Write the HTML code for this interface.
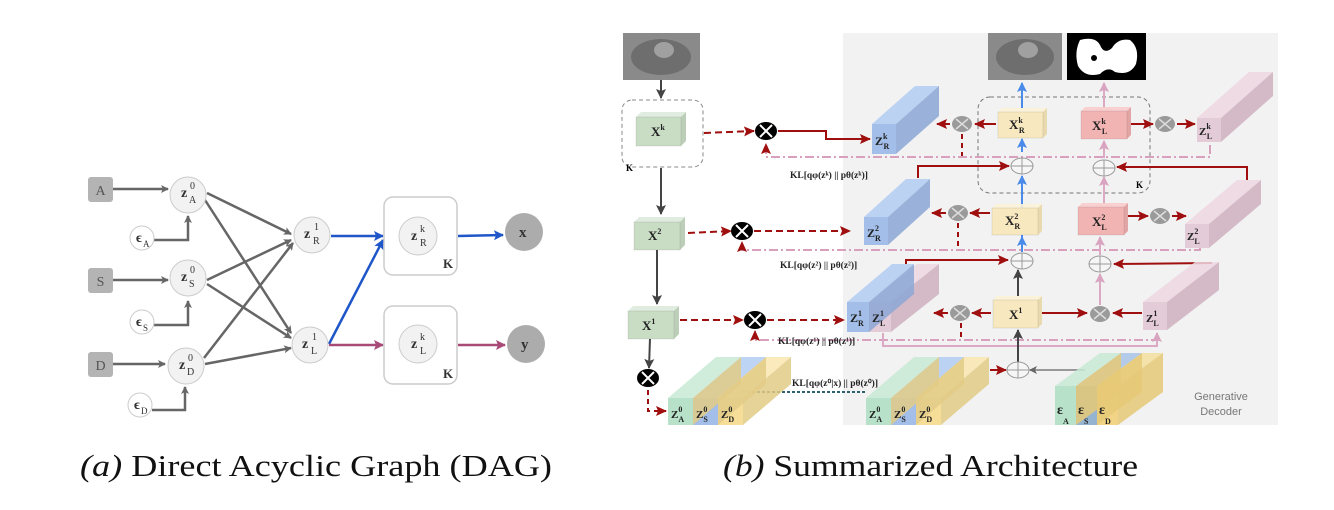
<!DOCTYPE html>
<html><head><meta charset="utf-8"><style>
body{margin:0;background:#fff;}
svg{display:block;font-family:"Liberation Serif",serif;}
.b{font-weight:bold;}
</style></head><body>
<svg id="s" width="1334" height="510" viewBox="0 0 1334 510" xmlns="http://www.w3.org/2000/svg">
<defs>
<marker id="ag" markerWidth="8" markerHeight="8" refX="7" refY="4" orient="auto" markerUnits="userSpaceOnUse"><path d="M0,0 L8,4 L0,8 L2,4z" fill="#666"/></marker>
<marker id="ak" markerWidth="10" markerHeight="10" refX="9" refY="5" orient="auto" markerUnits="userSpaceOnUse"><path d="M0,0 L10,5 L0,10 L2,5z" fill="#444"/></marker>
<marker id="ab" markerWidth="10" markerHeight="10" refX="9" refY="5" orient="auto" markerUnits="userSpaceOnUse"><path d="M0,0 L10,5 L0,10 L2,5z" fill="#1f56c8"/></marker>
<marker id="ab2" markerWidth="10" markerHeight="10" refX="9" refY="5" orient="auto" markerUnits="userSpaceOnUse"><path d="M0,0 L10,5 L0,10 L2,5z" fill="#4a8ae8"/></marker>
<marker id="am" markerWidth="10" markerHeight="10" refX="9" refY="5" orient="auto" markerUnits="userSpaceOnUse"><path d="M0,0 L10,5 L0,10 L2,5z" fill="#a84a78"/></marker>
<marker id="ap" markerWidth="10" markerHeight="10" refX="9" refY="5" orient="auto" markerUnits="userSpaceOnUse"><path d="M0,0 L10,5 L0,10 L2,5z" fill="#d8a4bf"/></marker>
<marker id="ar" markerWidth="11" markerHeight="10" refX="10" refY="5" orient="auto" markerUnits="userSpaceOnUse"><path d="M0,0 L11,5 L0,10 L2,5z" fill="#a00f0f"/></marker>
</defs>

<g stroke="#666" stroke-width="2.5" fill="none">
<line x1="113" y1="189" x2="168" y2="189" marker-end="url(#ag)"/>
<line x1="113" y1="280" x2="168" y2="280" marker-end="url(#ag)"/>
<line x1="113" y1="364" x2="165" y2="364" marker-end="url(#ag)"/>
<polyline points="154,240 188,240 188,216" marker-end="url(#ag)"/>
<polyline points="154,325 188,325 188,301" marker-end="url(#ag)"/>
<polyline points="152,410 185,410 185,387" marker-end="url(#ag)"/>
<line x1="207" y1="193" x2="291" y2="234" marker-end="url(#ag)"/>
<line x1="205" y1="200" x2="291" y2="333" marker-end="url(#ag)"/>
<line x1="207" y1="280" x2="291" y2="240" marker-end="url(#ag)"/>
<line x1="207" y1="284" x2="291" y2="338" marker-end="url(#ag)"/>
<line x1="204" y1="358" x2="293" y2="243" marker-end="url(#ag)"/>
<line x1="205" y1="364" x2="291" y2="348" marker-end="url(#ag)"/>
<line x1="331" y1="236" x2="383" y2="236" stroke="#1f56c8" marker-end="url(#ab)"/>
<line x1="329" y1="344" x2="383" y2="240" stroke="#1f56c8" marker-end="url(#ab)"/>
<line x1="329" y1="345" x2="383" y2="345" stroke="#a84a78" marker-end="url(#am)"/>
<line x1="458" y1="236" x2="503" y2="235" stroke="#1f56c8" marker-end="url(#ab)"/>
<line x1="458" y1="345" x2="505" y2="345" stroke="#a84a78" marker-end="url(#am)"/>
</g>
<g font-size="14">
<rect x="88" y="177" width="25" height="25" rx="3" fill="#b4b4b4"/><text x="100.5" y="195" text-anchor="middle" fill="#555">A</text>
<rect x="88" y="268" width="25" height="25" rx="3" fill="#b4b4b4"/><text x="100.5" y="286" text-anchor="middle" fill="#555">S</text>
<rect x="88" y="352" width="25" height="25" rx="3" fill="#b4b4b4"/><text x="100.5" y="370" text-anchor="middle" fill="#555">D</text>
<g fill="#f2f2f2" stroke="#ccc">
<circle cx="188" cy="195" r="18"/>
<circle cx="188" cy="278" r="18"/>
<circle cx="186" cy="366" r="18"/>
<circle cx="312" cy="235" r="18"/>
<circle cx="310" cy="345" r="18"/>
<circle cx="418" cy="236" r="19"/>
<circle cx="418" cy="344" r="19"/>
</g>
<g fill="#fff" stroke="#ccc">
<circle cx="142" cy="238" r="12"/>
<circle cx="142" cy="322" r="12"/>
<circle cx="140" cy="405" r="12"/>
</g>
<rect x="384" y="197" width="73" height="78" rx="9" fill="none" stroke="#ccc" stroke-width="1.5"/>
<rect x="384" y="306" width="73" height="78" rx="9" fill="none" stroke="#ccc" stroke-width="1.5"/>
<circle cx="524" cy="232" r="19" fill="#acacac"/>
<circle cx="526" cy="344" r="19" fill="#acacac"/>
<g fill="#333">
<text x="181" y="197" class="b">z</text><text x="190" y="189" font-size="10">0</text><text x="189" y="203" font-size="10">A</text>
<text x="181" y="281" class="b">z</text><text x="190" y="273" font-size="10">0</text><text x="189" y="287" font-size="10">S</text>
<text x="179" y="369" class="b">z</text><text x="188" y="361" font-size="10">0</text><text x="187" y="375" font-size="10">D</text>
<text x="304" y="238" class="b">z</text><text x="314" y="230" font-size="10">1</text><text x="313" y="244" font-size="10">R</text>
<text x="302" y="348" class="b">z</text><text x="312" y="340" font-size="10">1</text><text x="311" y="354" font-size="10">L</text>
<text x="411" y="240" class="b">z</text><text x="420" y="232" font-size="10">k</text><text x="420" y="246" font-size="10">R</text>
<text x="411" y="348" class="b">z</text><text x="420" y="340" font-size="10">k</text><text x="420" y="354" font-size="10">L</text>
<text x="443" y="268" class="b" font-size="13">K</text><text x="443" y="378" class="b" font-size="13">K</text>
<text x="519" y="237" class="b" font-size="15">x</text><text x="521" y="349" class="b" font-size="15">y</text>
<text x="136" y="242" class="b">ϵ</text><text x="143" y="247" font-size="9">A</text>
<text x="136" y="326" class="b">ϵ</text><text x="143" y="331" font-size="9">S</text>
<text x="134" y="409" class="b">ϵ</text><text x="141" y="414" font-size="9">D</text>
</g>
</g>

<rect x="843" y="33" width="435" height="392" fill="#f2f2f2"/>
<g>
<rect x="623" y="33" width="77" height="47" fill="#8a8a8a"/><ellipse cx="661" cy="57" rx="30" ry="18" fill="#6e6e6e"/><ellipse cx="664" cy="50" rx="10" ry="8" fill="#a0a0a0"/></g>
<g>
<rect x="988" y="33" width="74" height="47" fill="#8a8a8a"/><ellipse cx="1025" cy="57" rx="29" ry="18" fill="#6e6e6e"/><ellipse cx="1028" cy="50" rx="10" ry="8" fill="#a0a0a0"/></g>
<g>
<rect x="1067" y="33" width="79" height="47" fill="#000"/>
<path d="M1080,40 Q1095,36 1100,45 Q1104,55 1112,48 Q1118,38 1130,40 Q1140,48 1136,64 Q1130,76 1115,72 Q1108,66 1100,74 Q1085,78 1078,66 Q1074,52 1080,40z" fill="#fff"/><circle cx="1094" cy="58" r="3" fill="#000"/></g>

<g><rect x="622" y="100" width="81" height="67" rx="10" fill="none" stroke="#888" stroke-dasharray="4,3"/><text x="626" y="171" font-size="9" class="b">K</text></g>
<g><rect x="978" y="97" width="172" height="96" rx="12" fill="none" stroke="#777" stroke-dasharray="4,3"/><text x="1136" y="188" font-size="9" class="b">K</text></g>

<g id="lines" fill="none" stroke-width="2"></g>
<g id="boxes"></g>
<g id="labels" fill="#222"></g>

<g font-family="Liberation Sans,sans-serif" font-size="11" fill="#777" text-anchor="middle">
<text x="1221" y="400">Generative</text><text x="1221" y="415">Decoder</text></g>

<text x="80" y="476" font-size="31" textLength="472" lengthAdjust="spacingAndGlyphs" fill="#111"><tspan font-style="italic">(a)</tspan> Direct Acyclic Graph (DAG)</text>
<text x="723" y="476" font-size="31" textLength="415" lengthAdjust="spacingAndGlyphs" fill="#111"><tspan font-style="italic">(b)</tspan> Summarized Architecture</text>
</svg>
<script>
const NS='http://www.w3.org/2000/svg';
const L=document.getElementById('lines'),B=document.getElementById('boxes'),T=document.getElementById('labels');
function mk(tag,at,p){const e=document.createElementNS(NS,tag);for(const k in at)e.setAttribute(k,at[k]);p.appendChild(e);return e;}
function ln(pts,col,dash,mark,name){const e=mk('polyline',{points:pts,stroke:col},L);if(dash)e.setAttribute('stroke-dasharray',dash);if(mark)e.setAttribute('marker-end','url(#'+mark+')');

}
const R='#a00f0f',PK='#dba9c4',BL='#4a8ae8',K='#444';
ln('661,80 661,98',K,0,'ak','arrow-input');
ln('661,168 661,214',K,0,'ak','arrow-xk-x2');
ln('657,250 657,304',K,0,'ak','arrow-x2-x1');
ln('650,338 649,368',K,0,'ak','arrow-x1-z0');
ln('704,133 754,131',R,'7,4','ar','dash-xk');
ln('688,233 731,231',R,'7,4','ar','dash-x2');
ln('680,320 743,320',R,'7,4','ar','dash-x1');
ln('648,390 648,411 666,411',R,'5,4','ar','dash-z0');
ln('778,131 826,131 826,139 870,139',R,0,'ar','arrow-zRk');
ln('754,231 850,231',R,'7,4','ar','arrow-zR2');
ln('767,320 844,320',R,'7,4','ar','arrow-zR1');
ln('1210,145 1210,157 766,157 766,144','#d8a0bc','9,3,2,3','ar','kl-k-line');
ln('962,134 962,156',R,'5,4',0,'kl-k-dash');
ln('1200,247 1200,250 742,250 742,242','#d8a0bc','9,3,2,3','ar','kl-2-line');
ln('958,223 958,250',R,'5,4',0,'kl-2-dash');
ln('1160,340 755,340 755,331','#d8a0bc','9,3,2,3','ar','kl-1-line');
ln('961,323 961,340',R,'5,4',0,'kl-1-dash');
ln('883,333 883,346 1157,346 1157,333',PK,0,'ap','z1L-line');
ln('742,392 866,392','#2f6070','3,2',0,'kl-0-line');
ln('996,124 975,124',R,0,'ar','arr-xrk-mult');ln('950,124 937,124',R,0,'ar','arr-mult-zrk');
ln('990,213 970,213',R,0,'ar','arr-xr2-mult');ln('946,213 932,213',R,0,'ar','arr-mult-zr2');
ln('991,313 972,313',R,0,'ar','arr-x1-mult');ln('948,313 934,313',R,0,'ar','arr-mult-zr1');
ln('1131,124 1153,124',R,0,'ar','arr-xlk-mult');ln('1177,124 1195,124',R,0,'ar','arr-mult-zlk');
ln('1128,216 1148,216',R,0,'ar','arr-xl2-mult');ln('1172,216 1186,216',R,0,'ar','arr-mult-zl2');
ln('1042,313 1087,313',R,0,'ar','arr-x1-multL');ln('1142,313 1113,313',R,0,'ar','arr-zl1-multL');
ln('918,178 918,166 1009,166',R,0,'ar','arr-zr2-plus');
ln('1247,180 1247,167 1117,167',R,0,'ar','arr-zl2-plus');
ln('906,264 906,260 1008,260',R,0,'ar','arr-zr1-plus');
ln('1212,263 1114,264',R,0,'ar','arr-zl1-plus');
ln('1022,152 1022,139',BL,0,'ab2','arr-plusk-xrk');
ln('1022,252 1022,176',BL,0,'ab2','arr-x2-plus');
ln('1022,108 1022,83',BL,0,'ab2','arr-xrk-out');
ln('1022,252 1022,237',BL,0,'ab2','arr-plus2-xr2');
ln('1104,158 1104,141',PK,0,'ap','arr-pluskL');
ln('1104,204 1104,177',PK,0,'ap','arr-xl2-plus');
ln('1104,108 1104,83',PK,0,'ap','arr-xlk-out');
ln('1100,255 1100,237',PK,0,'ap','arr-plus2-xl2');
ln('1100,305 1100,274',PK,0,'ap','arr-multL-plus');
ln('1018,296 1018,270',K,0,'ak','arr-x1-plus');
ln('1018,362 1018,330',K,0,'ak','arr-plus0-x1');
ln('990,370 1006,370',R,0,'ar','arr-z0-plus0');
ln('1085,370 1030,370','#999',0,'ag','arr-eps-plus0');

function box(x,y,w,h,d,f,top,side,name){const g=mk('g',{},B);


mk('polygon',{points:`${x},${y} ${x+d},${y-d} ${x+w+d},${y-d} ${x+w},${y}`,fill:top,'fill-opacity':0.9},g);
mk('polygon',{points:`${x+w},${y} ${x+w+d},${y-d} ${x+w+d},${y+h-d} ${x+w},${y+h}`,fill:side,'fill-opacity':0.9},g);
mk('rect',{x:x,y:y,width:w,height:h,fill:f,stroke:'rgba(0,0,0,0.08)'},g);}
function bar(x,y,w,h,dx,dy,f,top,side,name){const g=mk('g',{},B);


mk('polygon',{points:`${x},${y} ${x+dx},${y-dy} ${x+w+dx},${y-dy} ${x+w},${y}`,fill:top,'fill-opacity':0.85},g);
mk('polygon',{points:`${x+w},${y} ${x+w+dx},${y-dy} ${x+w+dx},${y+h-dy} ${x+w},${y+h}`,fill:side,'fill-opacity':0.85},g);
mk('rect',{x:x,y:y,width:w,height:h,fill:f,'fill-opacity':0.95},g);}
const G=['#c9dcc4','#dceadb','#b5c9b0'],Y=['#f7e8c0','#fbf2d6','#e8d6a6'],P=['#f2b3b3','#f8cccc','#e09c9c'];
const BB=['#9dbbe8','#b3cdf2','#8ba7d6'],PP=['#e3c8d6','#eed7e2','#cfb0c0'];
box(636,117,45,29,5,...G,'box-xk');box(634,222,46,28,5,...G,'box-x2');box(628,311,46,28,5,...G,'box-x1');
box(998,112,45,26,4,...Y,'box-xrk');box(1081,111,46,28,4,...P,'box-xlk');
box(992,208,46,27,4,...Y,'box-xr2');box(1078,207,46,28,4,...P,'box-xl2');
box(993,300,45,28,4,...Y,'box-x1-decoder');
bar(872,124,24,30,43,38,...BB,'bar-zrk');bar(864,217,24,28,42,38,...BB,'bar-zr2');
bar(869,302,22,30,48,38,...PP,'bar-zl1-enc');bar(847,302,22,30,45,38,...BB,'bar-zr1');
bar(1197,118,24,24,52,46,...PP,'bar-zlk');bar(1185,224,24,24,52,44,...PP,'bar-zl2');bar(1143,302,24,28,52,40,...PP,'bar-zl1');
function z0(x,n){const C=[['#b3e0c6','#c8ead6'],['#9dbbe8','#b3cdf2'],['#f5dc92','#f9e6b0']];
for(let i=2;i>=0;i--){bar(x+i*25,398,25,27,48,41,C[i][0],C[i][1],'#e2cb86',n+'-part'+i);}}
z0(668,'bar-z0-encoder');z0(866,'bar-z0-decoder');
(function(){const C=[['#b3e0c6','#c8ead6'],['#8fb0cf','#a8c4e6'],['#f0d27e','#f5df9f']];for(let i=2;i>=0;i--)bar(1055+i*21,386,21,39,45,33,C[i][0],C[i][1],'#e6c977','bar-eps-part'+i);})();
function circ(cx,cy,kind,name){const g=mk('g',{},B);


if(kind==='m'){mk('ellipse',{cx,cy,rx:10,ry:8,fill:'#9a9a9a'},g);mk('path',{d:`M${cx-6},${cy-5}L${cx+6},${cy+5}M${cx+6},${cy-5}L${cx-6},${cy+5}`,stroke:'#ddd','stroke-width':1.5},g);}
else if(kind==='k'){mk('ellipse',{cx,cy,rx:11,ry:9,fill:'#000'},g);mk('path',{d:`M${cx-6},${cy-6}L${cx+6},${cy+6}M${cx+6},${cy-6}L${cx-6},${cy+6}`,stroke:'#fff','stroke-width':2},g);}
else{mk('ellipse',{cx,cy,rx:11,ry:8,fill:'#f6f6f6',stroke:'#999'},g);mk('path',{d:`M${cx-11},${cy}L${cx+11},${cy}M${cx},${cy-8}L${cx},${cy+8}`,stroke:'#999'},g);}}
circ(962,124,'m','mult-rk');circ(958,213,'m','mult-r2');circ(960,313,'m','mult-r1');
circ(1165,124,'m','mult-lk');circ(1160,216,'m','mult-l2');circ(1100,314,'m','mult-l1');
circ(1022,166,'p','plus-rk');circ(1022,261,'p','plus-r2');circ(1018,370,'p','plus-0');circ(1104,168,'p','plus-lk');circ(1100,264,'p','plus-l2');
circ(766,131,'k','sample-k');circ(742,231,'k','sample-2');circ(755,320,'k','sample-1');circ(648,378,'k','sample-0');
function lab(x,y,main,sup,sub,name,fs){const t=mk('text',{x,y,'font-size':fs||13,'font-weight':'bold'},T);


t.textContent=main;mk('tspan',{'font-size':8,dy:-6},t).textContent=sup;if(sub){mk('tspan',{'font-size':8,dy:10,dx:sup?-4:0},t).textContent=sub;}}
lab(651,136,'X','k','','label-xk');lab(648,240,'X','2','','label-x2');lab(642,330,'X','1','','label-x1');
lab(1009,129,'X','k','R','label-xrk');lab(1092,130,'X','k','L','label-xlk');
lab(1005,225,'X','2','R','label-xr2');lab(1092,226,'X','2','L','label-xl2');lab(1009,319,'X','1','','label-x1-dec');
lab(875,145,'Z','k','R','label-zrk',12);lab(867,237,'Z','2','R','label-zr2',12);lab(850,322,'Z','1','R','label-zr1',12);lab(872,322,'Z','1','L','label-zl1a',12);
lab(1199,135,'Z','k','L','label-zlk',11);lab(1187,240,'Z','2','L','label-zl2',11);lab(1146,322,'Z','1','L','label-zl1',11);
['A','S','D'].forEach((s,i)=>{lab(671+i*25,418,'Z','0',s,'label-z0'+s+'-enc',11);lab(869+i*25,418,'Z','0',s,'label-z0'+s+'-dec',11);lab(1057+i*21,414,'ε','',s,'label-eps'+s,14);});
function kl(x,y,s,name){const t=mk('text',{x,y,'font-size':9.5,'font-weight':'bold'},T);


t.textContent=s;}
kl(790,178,'KL[qφ(zᵏ) || pθ(zᵏ)]','kl-label-k');kl(780,268,'KL[qφ(z²) || pθ(z²)]','kl-label-2');
kl(778,344,'KL[qφ(z¹) || pθ(z¹)]','kl-label-1');kl(792,386,'KL[qφ(z⁰|x) || pθ(z⁰)]','kl-label-0');
</script>
</body></html>
